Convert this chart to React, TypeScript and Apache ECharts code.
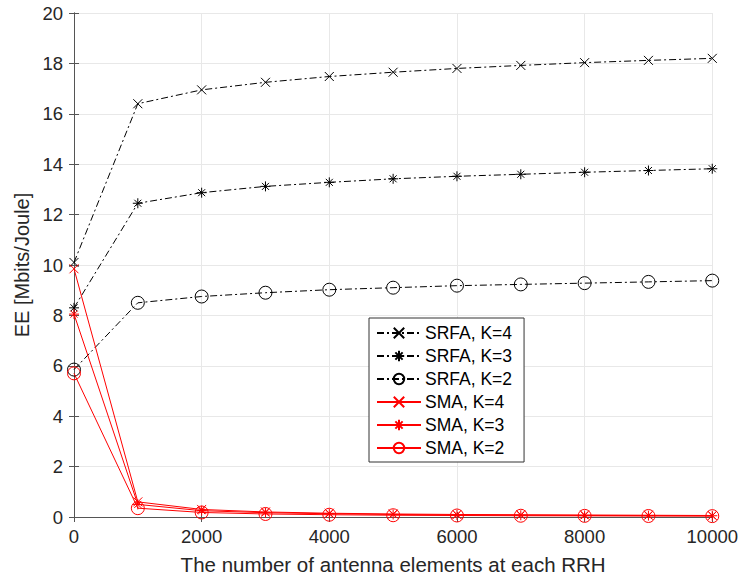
import React, { useEffect, useRef } from "react";
import * as echarts from "echarts";

const xValues = [0, 1000, 2000, 3000, 4000, 5000, 6000, 7000, 8000, 9000, 10000];
const srfaK4 = [10.1, 16.4, 16.95, 17.25, 17.48, 17.65, 17.8, 17.92, 18.03, 18.12, 18.2];
const srfaK3 = [8.3, 12.45, 12.87, 13.12, 13.28, 13.42, 13.52, 13.6, 13.68, 13.75, 13.82];
const srfaK2 = [5.85, 8.5, 8.75, 8.9, 9.02, 9.1, 9.18, 9.23, 9.28, 9.33, 9.38];
const smaK4 = [9.85, 0.6, 0.3, 0.2, 0.15, 0.12, 0.1, 0.09, 0.08, 0.07, 0.06];
const smaK3 = [8.05, 0.5, 0.25, 0.17, 0.13, 0.1, 0.08, 0.07, 0.06, 0.055, 0.05];
const smaK2 = [5.7, 0.35, 0.18, 0.12, 0.09, 0.07, 0.06, 0.05, 0.045, 0.04, 0.035];
const seriesNames = ["SRFA, K=4", "SRFA, K=3", "SRFA, K=2", "SMA, K=4", "SMA, K=3", "SMA, K=2"];

const X_SYM = "path://M0,0L10,10M10,0L0,10";
const STAR_SYM = "path://M5,0L5,10M0,5L10,5M1.5,1.5L8.5,8.5M8.5,1.5L1.5,8.5";
const CIRCLE_SYM = "path://M10,5A5,5 0 1,1 0,5A5,5 0 1,1 10,5Z";

const FONT = "Liberation Sans, Arial, Helvetica, sans-serif";

export default function App() {
  const ref = useRef<HTMLDivElement>(null);
  useEffect(() => {
    if (!ref.current) return;
    const chart = echarts.init(ref.current, undefined, { renderer: "svg" });
    const mk = (name: string, data: number[], color: string, symbol: string, size: number, dashed: boolean) => ({
      name,
      type: "line",
      data: xValues.map((x, i) => [x, data[i]]),
      symbol,
      symbolSize: size,
      showAllSymbol: true,
      color,
      lineStyle: { color, width: 1, type: dashed ? [7, 3, 2, 3] : "solid" },
      itemStyle: { color: symbol === CIRCLE_SYM ? "rgba(255,255,255,0)" : color, borderColor: color, borderWidth: 1 },
      emphasis: { disabled: true },
      z: dashed ? 2 : 3,
    });
    const axisLine = { show: true, lineStyle: { color: "#555", width: 1 } };
    const tick = { show: true, inside: true, length: 5, lineStyle: { color: "#555" } };
    chart.setOption({
      animation: false,
      backgroundColor: "#fff",
      grid: { left: 74, right: 20, top: 13, bottom: 60, containLabel: false },
      legend: {
        orient: "vertical",
        left: 369,
        top: 318,
        itemWidth: 44,
        itemHeight: 13,
        itemGap: 5,
        padding: [6, 12, 5, 7],
        borderColor: "#333",
        borderWidth: 1,
        backgroundColor: "#fff",
        textStyle: { fontFamily: FONT, fontSize: 17.5, color: "#000", padding: [0, 0, 0, -1] },
        data: seriesNames,
      },
      xAxis: [
        {
          type: "value",
          min: 0,
          max: 10000,
          interval: 2000,
          name: "The number of antenna elements at each RRH",
          nameLocation: "middle",
          nameGap: 37,
          nameTextStyle: { fontFamily: FONT, fontSize: 20.5, color: "#262626" },
          axisLine,
          axisTick: tick,
          axisLabel: { fontFamily: FONT, fontSize: 18.5, color: "#262626", margin: 10, formatter: (v: number) => String(v) },
          splitLine: { show: true, lineStyle: { color: "#e8e8e8", width: 1 } },
        },
        {
          type: "value",
          position: "top",
          min: 0,
          max: 10000,
          interval: 2000,
          axisLine,
          axisTick: tick,
          axisLabel: { show: false },
          splitLine: { show: false },
        },
      ],
      yAxis: [
        {
          type: "value",
          min: 0,
          max: 20,
          interval: 2,
          name: "EE [Mbits/Joule]",
          nameLocation: "middle",
          nameGap: 33,
          nameTextStyle: { fontFamily: FONT, fontSize: 20, color: "#262626" },
          axisLine,
          axisTick: tick,
          axisLabel: { fontFamily: FONT, fontSize: 18.5, color: "#262626", margin: 11 },
          splitLine: { show: true, lineStyle: { color: "#e8e8e8", width: 1 } },
        },
        {
          type: "value",
          position: "right",
          min: 0,
          max: 20,
          interval: 2,
          axisLine,
          axisTick: tick,
          axisLabel: { show: false },
          splitLine: { show: false },
        },
      ],
      series: [
        mk(seriesNames[0], srfaK4, "#000", X_SYM, 9, true),
        mk(seriesNames[1], srfaK3, "#000", STAR_SYM, 10, true),
        mk(seriesNames[2], srfaK2, "#000", CIRCLE_SYM, 13, true),
        mk(seriesNames[3], smaK4, "#ff0000", X_SYM, 9, false),
        mk(seriesNames[4], smaK3, "#ff0000", STAR_SYM, 10, false),
        mk(seriesNames[5], smaK2, "#ff0000", CIRCLE_SYM, 13, false),
      ],
    });
    return () => chart.dispose();
  }, []);
  return <div ref={ref} style={{ width: 741, height: 580, position: "absolute", left: 0, top: 0 }} />;
}
